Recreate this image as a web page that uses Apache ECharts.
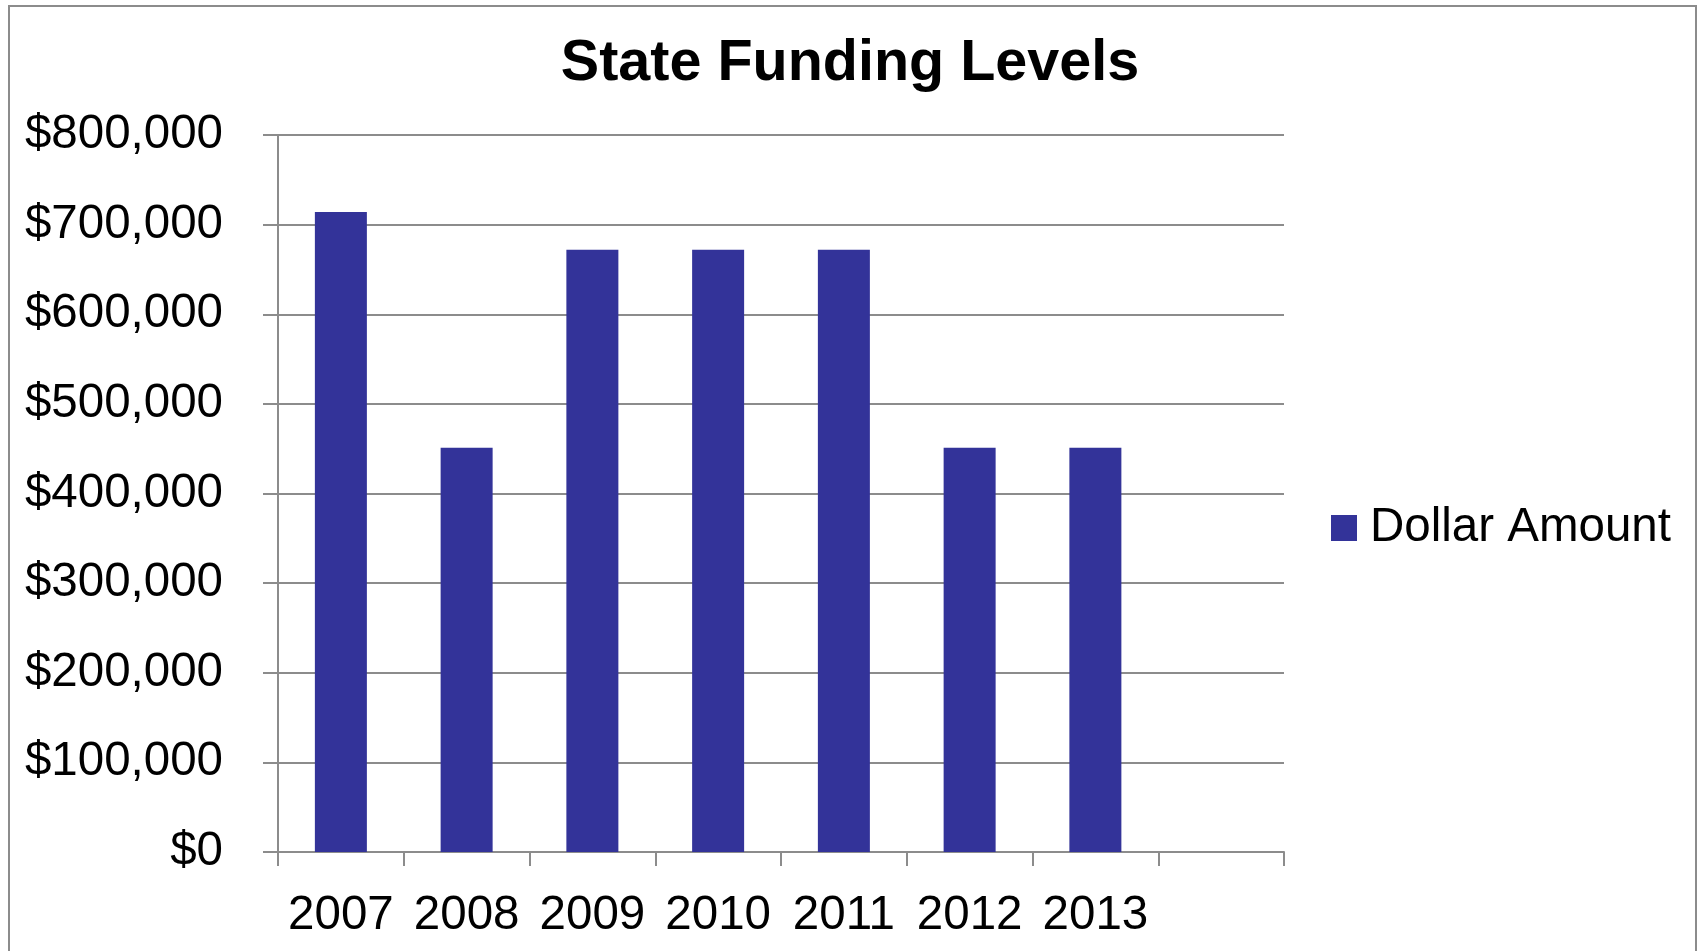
<!DOCTYPE html>
<html>
<head>
<meta charset="utf-8">
<title>State Funding Levels</title>
<script src="https://cdn.jsdelivr.net/npm/echarts@6/dist/echarts.min.js"></script>
<style>
  html, body { margin: 0; padding: 0; background: #ffffff; }
  #chart { width: 1700px; height: 951px; }
</style>
</head>
<body>
<div id="chart"></div>
<script>
// Funding years; the trailing blank slot leaves an empty band at the right end of the axis
const years = ['2007', '2008', '2009', '2010', '2011', '2012', '2013', ''];
// State funding per year, in dollars
const dollarAmount = [714000, 451000, 672000, 672000, 672000, 451000, 451000, null];
const seriesName = 'Dollar Amount';
const yMax = 800000;
const yStep = 100000;

const FONT = '"Liberation Sans", Arial, sans-serif';
const GRAY = '#8c8c8c';

function dollars(v) {
  return '$' + String(v).replace(/\B(?=(\d{3})+(?!\d))/g, ',');
}

const chart = echarts.init(document.getElementById('chart'), null, { renderer: 'canvas' });

chart.setOption({
  backgroundColor: '#ffffff',
  animation: false,
  textStyle: { fontFamily: FONT },
  graphic: [{
    type: 'rect',
    silent: true,
    z: -1,
    shape: { x: 9, y: 6, width: 1687, height: 1000 },
    style: { fill: 'none', stroke: GRAY, lineWidth: 2 }
  }],
  title: {
    text: 'State Funding Levels',
    left: 'center',
    top: 35,
    padding: 0,
    textStyle: { fontFamily: FONT, fontSize: 57.5, fontWeight: 'bold', color: '#000000' }
  },
  legend: {
    data: [seriesName],
    orient: 'vertical',
    left: 1331,
    top: 504,
    padding: 0,
    icon: 'rect',
    itemWidth: 26,
    itemHeight: 26,
    itemGap: 10,
    textStyle: { fontFamily: FONT, fontSize: 47.5, color: '#000000', padding: [0, 0, 0, 8] }
  },
  grid: { left: 278, right: 416, top: 135, bottom: 99, containLabel: false },
  xAxis: {
    type: 'category',
    data: years,
    boundaryGap: true,
    axisLine: { show: true, lineStyle: { color: GRAY, width: 2 } },
    axisTick: { show: true, inside: false, length: 14, alignWithLabel: false, lineStyle: { color: GRAY, width: 2 } },
    axisLabel: { fontFamily: FONT, fontSize: 47.5, color: '#000000', margin: 40, interval: 0 },
    splitLine: { show: false }
  },
  yAxis: {
    type: 'value',
    min: 0,
    max: yMax,
    interval: yStep,
    axisLine: { show: true, lineStyle: { color: GRAY, width: 2 } },
    axisTick: { show: true, inside: false, length: 15, lineStyle: { color: GRAY, width: 2 } },
    axisLabel: { fontFamily: FONT, fontSize: 47.5, color: '#000000', margin: 55, padding: [5, 0, 0, 0], formatter: dollars },
    splitLine: { show: true, lineStyle: { color: GRAY, width: 2 } }
  },
  series: [{
    name: seriesName,
    type: 'bar',
    data: dollarAmount,
    barWidth: 52,
    itemStyle: { color: '#333399' }
  }]
});
</script>
</body>
</html>
